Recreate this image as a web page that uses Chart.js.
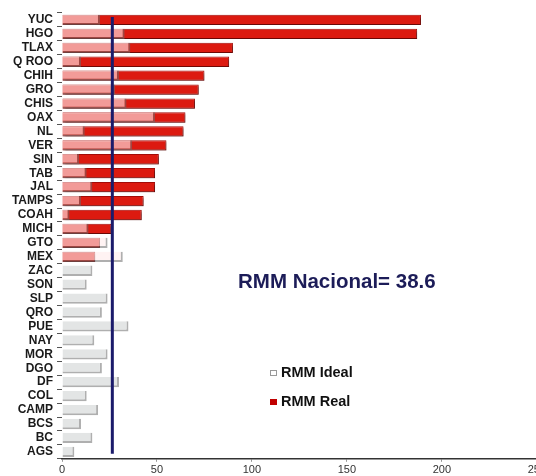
<!DOCTYPE html>
<html>
<head>
<meta charset="utf-8">
<script src="https://cdn.jsdelivr.net/npm/chart.js"></script>
<style>
  html, body { margin: 0; padding: 0; background: #fff; overflow: hidden; }
  #wrap { position: relative; width: 548px; height: 476px; overflow: hidden; }
</style>
</head>
<body>
<div id="wrap"><canvas id="myChart" width="548" height="479"></canvas></div>
<script>
// estados
const states = ["YUC", "HGO", "TLAX", "Q ROO", "CHIH", "GRO", "CHIS", "OAX", "NL", "VER",
  "SIN", "TAB", "JAL", "TAMPS", "COAH", "MICH", "GTO", "MEX", "ZAC", "SON",
  "SLP", "QRO", "PUE", "NAY", "MOR", "DGO", "DF", "COL", "CAMP", "BCS", "BC", "AGS"];

// RMM ideal (barra gris) y RMM real (barra roja)
const rmmIdeal = [20, 33, 36, 10, 30, 28, 34, 49, 12, 37,
  9, 13, 16, 10, 4, 14, 24, 32, 16, 13,
  24, 21, 35, 17, 24, 21, 30, 13, 19, 10, 16, 6.5];
const rmmReal = [189, 187, 90, 88, 75, 72, 70, 65, 64, 55,
  51, 49, 49, 43, 42, 26, 20, 17.5, null, null,
  null, null, null, null, null, null, null, null, null, null, null, null];

const xTicks = [0, 50, 100, 150, 200, 250];
const rmmNacional = 38.6;     // texto del recuadro
const lineaNacional = 26.5;   // donde esta dibujada la linea azul

// sombra solo para las barras rojas (la gris es semitransparente encima)
const shadowPlugin = {
  id: "shadow",
  beforeDatasetDraw(chart, args) {
    const ctx = chart.ctx;
    ctx.save();
    if (args.index === 1) {
      ctx.shadowColor = "rgba(0,0,0,0.35)";
      ctx.shadowOffsetX = 2;
      ctx.shadowOffsetY = 2;
      ctx.shadowBlur = 2;
    }
  },
  afterDatasetDraw(chart) {
    chart.ctx.restore();
  },
};

const extrasPlugin = {
  id: "extras",
  afterDatasetsDraw(chart) {
    const ctx = chart.ctx;
    const x = chart.scales.x.getPixelForValue(lineaNacional);
    const top = chart.scales.y.getPixelForValue(0) - 3;
    const bottom = chart.scales.y.getPixelForValue(states.length - 1) + 2;
    ctx.save();
    ctx.strokeStyle = "#1b1b6b";
    ctx.lineWidth = 3;
    ctx.beginPath();
    ctx.moveTo(x, top);
    ctx.lineTo(x, bottom);
    ctx.stroke();

    // texto RMM nacional
    ctx.fillStyle = "#1c1c58";
    ctx.font = "bold 20.5px 'Liberation Sans', Arial, sans-serif";
    ctx.textBaseline = "middle";
    ctx.textAlign = "left";
    ctx.fillText("RMM Nacional= " + rmmNacional, 238, 282);

    // leyenda
    const ds = chart.data.datasets;
    const items = [
      { y: 373, fill: "#ffffff", stroke: "#999", label: ds[0].label },
      { y: 402, fill: "#c00000", stroke: "#c00000", label: ds[1].label },
    ];
    ctx.font = "bold 14.5px 'Liberation Sans', Arial, sans-serif";
    items.forEach((it) => {
      ctx.fillStyle = it.fill;
      ctx.strokeStyle = it.stroke;
      ctx.lineWidth = 1;
      ctx.fillRect(270.5, it.y - 2.5, 6, 5);
      ctx.strokeRect(270.5, it.y - 2.5, 6, 5);
      ctx.fillStyle = "#111";
      ctx.fillText(it.label, 281, it.y);
    });
    ctx.restore();
  },
};

new Chart(document.getElementById("myChart"), {
  type: "bar",
  data: {
    labels: states,
    datasets: [
      {
        label: "RMM Ideal",
        data: rmmIdeal,
        // sobre la barra roja se ve rosa, sola se ve gris
        backgroundColor: (c) =>
          rmmReal[c.dataIndex] == null ? "#e3e5e5" : "rgba(255,236,236,0.62)",
        borderColor: "rgba(110,110,110,0.55)",
        borderWidth: { top: 0, left: 0, right: 2, bottom: 2 },
        borderSkipped: false,
        grouped: false,
        barPercentage: 0.74,
        categoryPercentage: 1,
      },
      {
        label: "RMM Real",
        data: rmmReal,
        backgroundColor: "#dc1a10",
        borderColor: "#a30c08",
        borderWidth: 1,
        grouped: false,
        barPercentage: 0.74,
        categoryPercentage: 1,
      },
    ],
  },
  options: {
    indexAxis: "y",
    responsive: false,
    animation: false,
    devicePixelRatio: 1,
    layout: { padding: { top: 13, left: 0, right: 0, bottom: 0 } },
    plugins: {
      legend: { display: false },
      tooltip: { enabled: false },
    },
    scales: {
      x: {
        min: xTicks[0],
        max: xTicks[xTicks.length - 1],
        afterBuildTicks(scale) {
          scale.ticks = xTicks.map((v) => ({ value: v }));
        },
        ticks: {
          color: "#333",
          font: { family: "'Liberation Sans', Arial, sans-serif", size: 11 },
          padding: 2,
        },
        grid: { drawOnChartArea: false, tickLength: 3, color: "#999" },
        border: { display: true, color: "#333", width: 1.5 },
      },
      y: {
        afterFit(scale) {
          scale.width = 62;
        },
        ticks: {
          color: "#1a1a1a",
          font: { family: "'Liberation Sans', Arial, sans-serif", size: 12, weight: "bold" },
          padding: 4,
          autoSkip: false,
        },
        grid: { offset: true, drawOnChartArea: false, tickLength: 5, color: "#555" },
        border: { display: false },
      },
    },
  },
  plugins: [shadowPlugin, extrasPlugin],
});
</script>
</body>
</html>
